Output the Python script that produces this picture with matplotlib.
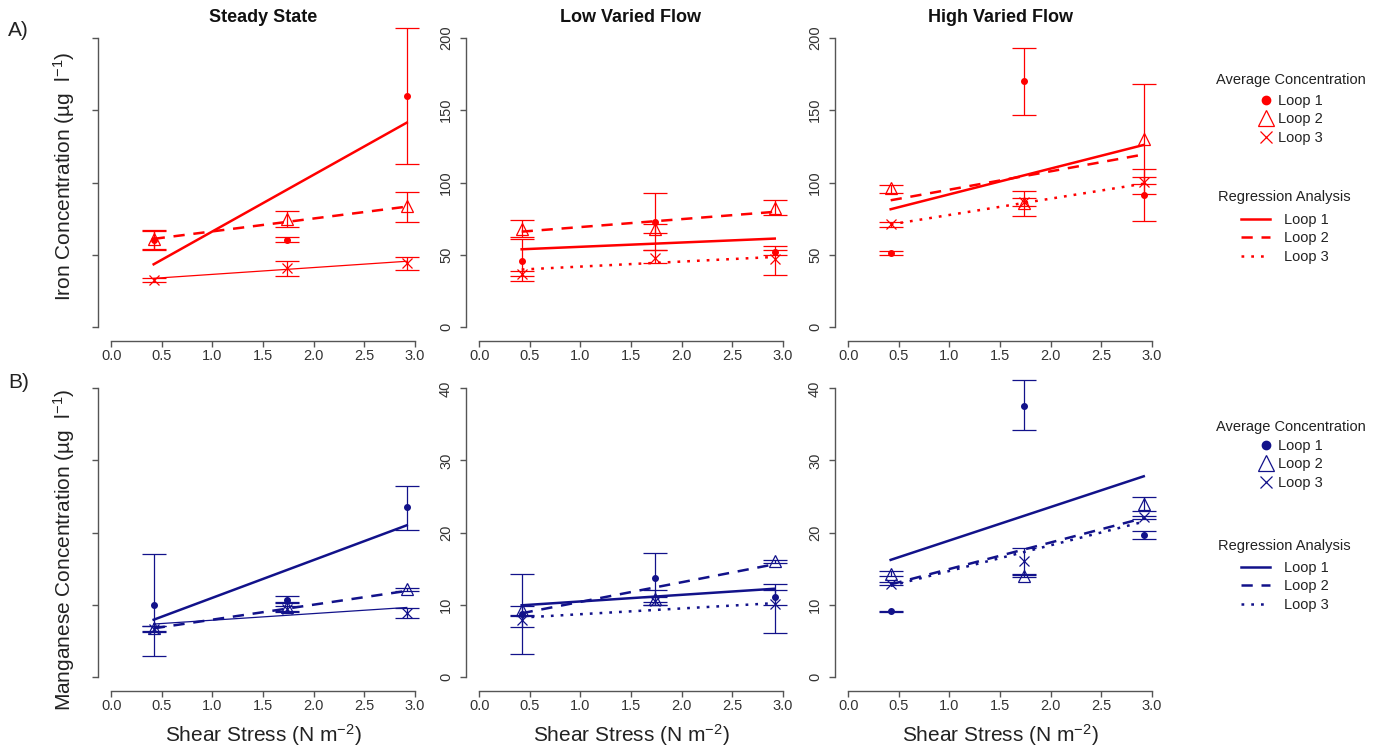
import matplotlib
matplotlib.use('Agg')
import matplotlib.pyplot as plt
from matplotlib.lines import Line2D
import numpy as np

plt.rcParams['font.family'] = ['Liberation Sans', 'DejaVu Sans']
plt.rcParams['mathtext.fontset'] = 'custom'
plt.rcParams['mathtext.rm'] = 'Liberation Sans'
plt.rcParams['mathtext.it'] = 'Liberation Sans:italic'
plt.rcParams['mathtext.default'] = 'regular'

# ---------------- data ----------------
shear = [0.42, 1.74, 2.92]
x_ticks = [0.0, 0.5, 1.0, 1.5, 2.0, 2.5, 3.0]
fe_ticks = [0, 50, 100, 150, 200]
mn_ticks = [0, 10, 20, 30, 40]
flow_titles = ['Steady State', 'Low Varied Flow', 'High Varied Flow']
loop_labels = ['Loop 1', 'Loop 2', 'Loop 3']

# Iron (rows: Loop 1, Loop 2, Loop 3; columns: shear stress points)
fe_steady_mean = [[60, 60.5, 160], [61, 75, 84], [32.5, 40.5, 44]]
fe_steady_lo = [[53, 58.8, 113], [54, 69, 73], [31, 35, 39.5]]
fe_steady_hi = [[66.5, 62.5, 207], [67, 80, 93.5], [34, 46, 48.7]]
fe_steady_fit = [[43.4, 141.4], [61, 83.3], [33.7, 45.5]]

fe_low_mean = [[46, 73, 52], [68, 68, 82.6], [37, 47.5, 47.3]]
fe_low_lo = [[31.7, 53, 50], [62, 65, 77.3], [35, 44, 36.2]]
fe_low_hi = [[60.7, 93, 55.8], [74, 71.5, 87.7], [39, 53, 53.1]]
fe_low_fit = [[53.8, 61.2], [66, 79.7], [39.8, 48.5]]

fe_high_mean = [[51.4, 170, 91.2], [96, 85.5, 130], [71, 86.7, 100.6]]
fe_high_lo = [[49.7, 147, 73.2], [93, 77, 92], [69, 84, 98.7]]
fe_high_hi = [[52.7, 193.4, 109], [98.5, 94, 168], [72.6, 89, 104]]
fe_high_fit = [[81.5, 126], [87.7, 119.4], [71, 99.2]]

# Manganese
mn_steady_mean = [[9.9, 10.6, 23.5], [6.7, 9.6, 12.1], [6.6, 9.4, 8.8]]
mn_steady_lo = [[2.9, 10.2, 20.4], [6.4, 9.0, 11.9], [6.2, 9.1, 8.1]]
mn_steady_hi = [[17, 11.2, 26.5], [7.0, 10.3, 12.3], [7.0, 9.8, 9.5]]
mn_steady_fit = [[7.9, 21.0], [6.7, 11.9], [7.3, 9.6]]

mn_low_mean = [[8.65, 13.7, 11.0], [9.2, 10.8, 16.0], [7.8, 10.5, 10.1]]
mn_low_lo = [[3.1, 10.4, 10.0], [8.6, 10.0, 15.8], [6.9, 10.0, 6.1]]
mn_low_hi = [[14.2, 17.1, 12.0], [9.8, 12.05, 16.2], [8.4, 11.0, 12.9]]
mn_low_fit = [[9.9, 12.2], [8.8, 15.6], [8.2, 10.2]]

mn_high_mean = [[9.06, 37.6, 19.7], [14.3, 14.0, 23.9], [12.9, 16.1, 22.1]]
mn_high_lo = [[9.0, 34.2, 19.1], [14.0, 13.8, 23.0], [12.7, 14.1, 21.9]]
mn_high_hi = [[9.1, 41.2, 20.2], [14.6, 14.2, 24.9], [13.1, 17.9, 22.3]]
mn_high_fit = [[16.2, 27.8], [12.8, 22.0], [12.6, 21.5]]

# ---------------- style ----------------
RED = '#ff0000'
NAVY = '#12128a'
AXC = '#555555'
TXC = '#333333'

markers = ['o', '^', 'x']
msizes = [4, 8, 7]
fit_styles = ['-', (0, (4.5, 3.5)), (0, (1.1, 2.8))]
fit_widths = [1.8, 1.8, 1.8]

W, H = 1384, 752
fig = plt.figure(figsize=(W / 100, H / 100), dpi=100)

lefts = [99, 467, 836]
pw = 328
rows = [(26.4, 338.6), (376.8, 688.2)]


def make_ax(col, row):
    top, bot = rows[row]
    return fig.add_axes([lefts[col] / W, 1 - bot / H, pw / W, (bot - top) / H])


def draw_panel(ax, mean, lo, hi, fit, color, ymax, yticks, first_col=False):
    for i in range(3):
        m = np.array(mean[i]); l = np.array(lo[i]); h = np.array(hi[i])
        yerr = [np.clip(m - l, 0, None), np.clip(h - m, 0, None)]
        ax.errorbar(shear, m, yerr=yerr, fmt='none', ecolor=color,
                    elinewidth=0.9, capsize=8.5, capthick=0.9, zorder=2)
        if markers[i] == 'o':
            ax.plot(shear, m, linestyle='none', marker='o', ms=msizes[i],
                    color=color, zorder=3)
        else:
            ax.plot(shear, m, linestyle='none', marker=markers[i], ms=msizes[i],
                    mfc='none', mec=color, mew=0.9, zorder=3)
        ls = fit_styles[i]
        lw = fit_widths[i]
        if first_col and i == 2:
            ls = '-'
            lw = 0.9
        ax.plot([shear[0], shear[-1]], fit[i], color=color, linestyle=ls,
                linewidth=lw, dash_capstyle='butt', zorder=4)
    pad = ymax * 0.04
    ax.set_xlim(-0.12, 3.12)
    ax.set_ylim(-pad, ymax + pad)
    for s in ['top', 'right']:
        ax.spines[s].set_visible(False)
    ax.spines['left'].set_bounds(0, ymax)
    ax.spines['bottom'].set_bounds(0, 3)
    ax.spines['bottom'].set_position(('outward', 2))
    ax.spines['left'].set_position(('outward', 1))
    for s in ['left', 'bottom']:
        ax.spines[s].set_color(AXC)
        ax.spines[s].set_linewidth(1.0)
    ax.set_xticks(x_ticks)
    ax.set_xticklabels([f'{v:.1f}' for v in x_ticks])
    ax.set_yticks(yticks)
    ax.set_yticklabels([str(v) for v in yticks])
    ax.tick_params(axis='x', length=4, width=1, color=AXC, labelcolor=TXC,
                   labelsize=10.5, pad=1.5)
    ax.tick_params(axis='y', length=4.5, width=1, color=AXC, labelcolor=TXC,
                   labelsize=10.5, pad=4.5, labelleft=not first_col)
    for lbl in ax.get_yticklabels():
        lbl.set_rotation(90)
        lbl.set_va('center')
    ax.patch.set_visible(False)


fe_sets = [
    (fe_steady_mean, fe_steady_lo, fe_steady_hi, fe_steady_fit),
    (fe_low_mean, fe_low_lo, fe_low_hi, fe_low_fit),
    (fe_high_mean, fe_high_lo, fe_high_hi, fe_high_fit),
]
mn_sets = [
    (mn_steady_mean, mn_steady_lo, mn_steady_hi, mn_steady_fit),
    (mn_low_mean, mn_low_lo, mn_low_hi, mn_low_fit),
    (mn_high_mean, mn_high_lo, mn_high_hi, mn_high_fit),
]

for c in range(3):
    ax = make_ax(c, 0)
    draw_panel(ax, *fe_sets[c], RED, 200, fe_ticks, first_col=(c == 0))
    ax.set_title(flow_titles[c], fontsize=13, fontweight='bold', pad=3.5,
                 color='#111111')
    ax2 = make_ax(c, 1)
    draw_panel(ax2, *mn_sets[c], NAVY, 40, mn_ticks, first_col=(c == 0))
    fig.text((lefts[c] + pw / 2) / W, 1 - 735 / H, 'Shear Stress (N m$^{-2}$)',
             ha='center', va='center', fontsize=15, color='#222222')

fig.text(64 / W, 1 - 176 / H, 'Iron Concentration (µg  l$^{-1}$)', rotation=90,
         ha='center', va='center', fontsize=15, color='#222222')
fig.text(64 / W, 1 - 550 / H, 'Manganese Concentration (µg  l$^{-1}$)', rotation=90,
         ha='center', va='center', fontsize=15, color='#222222')
fig.text(8 / W, 1 - 30 / H, 'A)', ha='left', va='center', fontsize=15, color='#222222')
fig.text(8 / W, 1 - 382 / H, 'B)', ha='left', va='center', fontsize=15, color='#222222')


def add_legends(color, y_avg_title, y_avg, y_reg_title, y_reg):
    fig.text(1291 / W, 1 - y_avg_title / H, 'Average Concentration', ha='center',
             va='center', fontsize=10.5, color='#222222')
    mh = [
        Line2D([], [], linestyle='none', marker='o', ms=6, color=color),
        Line2D([], [], linestyle='none', marker='^', ms=11, mfc='none', mec=color, mew=0.9),
        Line2D([], [], linestyle='none', marker='x', ms=9, mec=color, mew=0.9),
    ]
    leg1 = fig.legend(mh, loop_labels,
                      loc='upper center', bbox_to_anchor=(1291 / W, 1 - y_avg / H),
                      frameon=False, fontsize=10.5,
                      handlelength=1.0, handletextpad=0.3, labelspacing=0.3,
                      borderpad=0, borderaxespad=0)
    for t in leg1.get_texts():
        t.set_color('#222222')
    fig.text(1284 / W, 1 - y_reg_title / H, 'Regression Analysis', ha='center',
             va='center', fontsize=10.5, color='#222222')
    lh = [
        Line2D([], [], color=color, linestyle=fit_styles[i], linewidth=1.8,
               dash_capstyle='butt') for i in range(3)
    ]
    leg2 = fig.legend(lh, loop_labels,
                      loc='upper center', bbox_to_anchor=(1285 / W, 1 - y_reg / H),
                      frameon=False, fontsize=10.5,
                      handlelength=2.0, handletextpad=1.0, labelspacing=0.3,
                      borderpad=0, borderaxespad=0)
    for t in leg2.get_texts():
        t.set_color('#222222')


add_legends(RED, 80, 94, 197, 213)
add_legends(NAVY, 427, 439, 546, 561)

fig.savefig('out.png', dpi=100, facecolor='white')
